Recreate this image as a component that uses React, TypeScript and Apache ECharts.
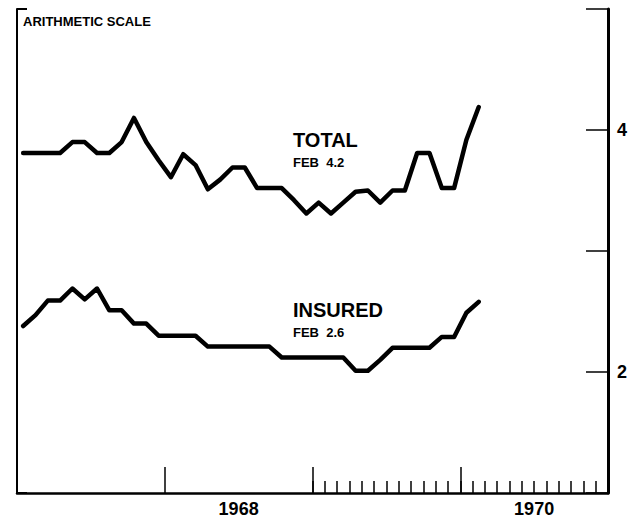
import React, { useEffect, useRef } from "react";
import * as echarts from "echarts";

// ---- data ----
const years = ["1967", "1968", "1969", "1970"];
const yearLabelsShown = ["1968", "1970"];
const monthNames = ["Jan", "Feb", "Mar", "Apr", "May", "Jun", "Jul", "Aug", "Sep", "Oct", "Nov", "Dec"];
const months: string[] = [];
years.forEach((y) => monthNames.forEach((m) => months.push(`${m} ${y}`)));

// Jan 1967 .. Feb 1970 (percent)
const totalRate = [
  3.81, 3.81, 3.81, 3.81, 3.9, 3.9, 3.81, 3.81, 3.9, 4.1, 3.9, 3.75,
  3.61, 3.8, 3.71, 3.51, 3.59, 3.69, 3.69, 3.52, 3.52, 3.52, 3.42, 3.31,
  3.4, 3.31, 3.4, 3.49, 3.5, 3.4, 3.5, 3.5, 3.81, 3.81, 3.52, 3.52,
  3.92, 4.19,
];
const insuredRate = [
  2.38, 2.47, 2.59, 2.59, 2.69, 2.6, 2.69, 2.51, 2.51, 2.4, 2.4, 2.3,
  2.3, 2.3, 2.3, 2.21, 2.21, 2.21, 2.21, 2.21, 2.21, 2.12, 2.12, 2.12,
  2.12, 2.12, 2.12, 2.01, 2.01, 2.1, 2.2, 2.2, 2.2, 2.2, 2.29, 2.29,
  2.49, 2.58,
];
const yLabelValues = [2, 4];
const seriesNames = ["TOTAL", "INSURED"];
const latestNotes = ["FEB  4.2", "FEB  2.6"];
const scaleNote = "ARITHMETIC SCALE";

const FONT = "Liberation Sans";

export default function App() {
  const ref = useRef<HTMLDivElement>(null);
  useEffect(() => {
    if (!ref.current) return;
    const chart = echarts.init(ref.current, null, { renderer: "svg" });
    const option: any = {
      animation: false,
      backgroundColor: "#ffffff",
      grid: { left: 17, right: 29, top: 9, bottom: 26, containLabel: false },
      xAxis: [
        {
          type: "category",
          data: months,
          boundaryGap: true,
          position: "bottom",
          axisLine: { show: true, lineStyle: { color: "#000", width: 2.5 } },
          axisTick: {
            show: true,
            inside: true,
            length: 12,
            interval: (i: number) => i >= 24,
            lineStyle: { color: "#000", width: 1.5 },
          },
          axisLabel: { show: false },
          splitLine: { show: false },
        },
        {
          type: "category",
          data: years,
          boundaryGap: true,
          position: "bottom",
          axisLine: { show: false },
          axisTick: {
            show: true,
            inside: true,
            length: 26,
            interval: (i: number) => i > 0,
            lineStyle: { color: "#000", width: 1.5 },
          },
          axisLabel: {
            show: true,
            interval: 0,
            margin: 7,
            formatter: (v: string) => (yearLabelsShown.includes(v) ? v : ""),
            fontFamily: FONT,
            fontWeight: "bold",
            fontSize: 18,
            color: "#000",
          },
          splitLine: { show: false },
        },
      ],
      yAxis: [
        {
          type: "value",
          position: "right",
          min: 1,
          max: 5,
          interval: 1,
          axisLine: { show: true, lineStyle: { color: "#000", width: 3 } },
          axisTick: { show: true, inside: true, length: 22, lineStyle: { color: "#000", width: 1.5 } },
          axisLabel: {
            show: true,
            margin: 9,
            formatter: (v: number) => (yLabelValues.includes(v) ? String(v) : ""),
            fontFamily: FONT,
            fontWeight: "bold",
            fontSize: 18,
            color: "#000",
          },
          splitLine: { show: false },
        },
        {
          type: "value",
          position: "left",
          min: 1,
          max: 5,
          interval: 4,
          axisLine: { show: true, lineStyle: { color: "#000", width: 2 } },
          axisTick: { show: true, inside: true, length: 10, lineStyle: { color: "#000", width: 2 } },
          axisLabel: { show: false },
          splitLine: { show: false },
        },
      ],
      series: [
        {
          name: seriesNames[0],
          type: "line",
          xAxisIndex: 0,
          yAxisIndex: 0,
          data: totalRate,
          symbol: "none",
          lineStyle: { color: "#000", width: 4.5, join: "round", cap: "round" },
        },
        {
          name: seriesNames[1],
          type: "line",
          xAxisIndex: 0,
          yAxisIndex: 0,
          data: insuredRate,
          symbol: "none",
          lineStyle: { color: "#000", width: 4.5, join: "round", cap: "round" },
        },
      ],
      graphic: [
        {
          type: "text",
          left: 23,
          top: 15,
          style: { text: scaleNote, fontFamily: FONT, fontWeight: "bold", fontSize: 13, fill: "#000" },
        },
        {
          type: "text",
          left: 293,
          top: 130,
          style: { text: seriesNames[0], fontFamily: FONT, fontWeight: "bold", fontSize: 20, fill: "#000" },
        },
        {
          type: "text",
          left: 293,
          top: 156,
          style: { text: latestNotes[0], fontFamily: FONT, fontWeight: "bold", fontSize: 13, fill: "#000" },
        },
        {
          type: "text",
          left: 293,
          top: 300,
          style: { text: seriesNames[1], fontFamily: FONT, fontWeight: "bold", fontSize: 20, fill: "#000" },
        },
        {
          type: "text",
          left: 293,
          top: 326,
          style: { text: latestNotes[1], fontFamily: FONT, fontWeight: "bold", fontSize: 13, fill: "#000" },
        },
      ],
    };
    chart.setOption(option);
    return () => chart.dispose();
  }, []);
  return (
    <div
      ref={ref}
      style={{ position: "absolute", left: 0, top: 0, width: 637, height: 519, background: "#fff" }}
    />
  );
}
